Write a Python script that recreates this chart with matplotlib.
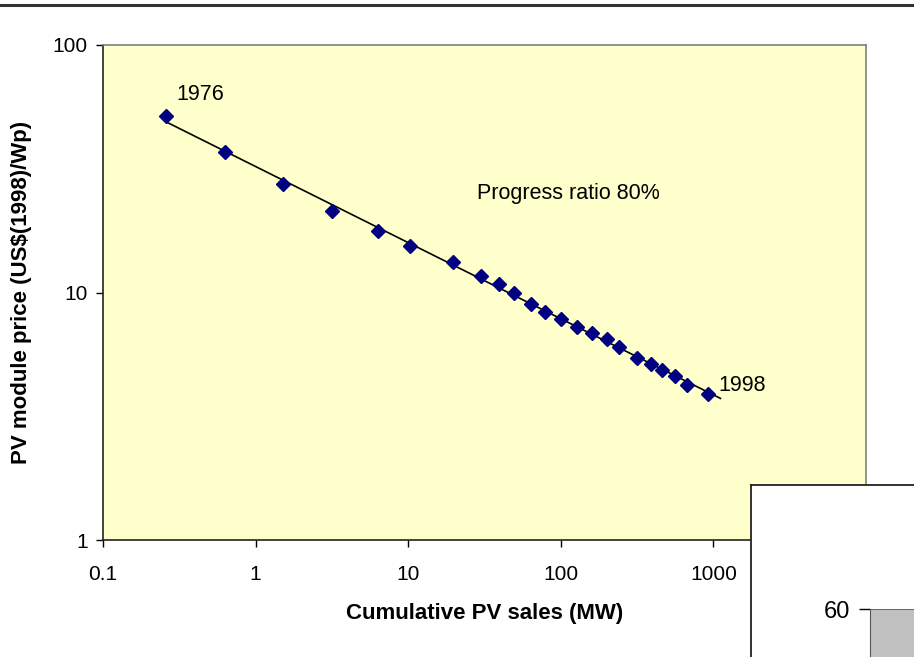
import numpy as np
import matplotlib
matplotlib.use("Agg")
import matplotlib.pyplot as plt

plt.rcParams['font.family'] = ['Liberation Sans', 'DejaVu Sans']

# cumulative PV sales (MW) and module price (US$1998/Wp), 1976..1998
sales = [0.26, 0.63, 1.51, 3.18, 6.3, 10.3, 19.6, 30.1, 39.5, 49.5, 64.1,
         79, 100, 128, 161, 202, 241, 318, 388, 463, 563, 676, 927]
price = [51.5, 37.0, 27.4, 21.3, 17.8, 15.4, 13.3, 11.7, 10.8, 10.0, 9.0,
         8.35, 7.8, 7.26, 6.86, 6.5, 6.05, 5.45, 5.14, 4.85, 4.58, 4.23, 3.9]
first_year, last_year = "1976", "1998"
inset_ticks = [60]
inset_vals = [60]

fig = plt.figure(figsize=(9.14, 6.57), dpi=100)

# dark rule along the top of the page
fig.add_artist(plt.Line2D([0, 1], [1 - 5 / 657, 1 - 5 / 657], color='#333333', lw=2.2))

ax = fig.add_axes([103 / 914, 1 - 540 / 657, 763 / 914, 495 / 657])
ax.set_facecolor('#FFFFCC')
ax.set_xscale('log')
ax.set_yscale('log')
ax.set_xlim(0.1, 10000)
ax.set_ylim(1, 100)

# fitted experience curve
logx, logy = np.log10(sales), np.log10(price)
slope, icpt = np.polyfit(logx, logy, 1)
xf = np.array([sales[0], sales[-1] * 1.2])
ax.plot(xf, 10 ** (icpt + slope * np.log10(xf)), color='black', lw=1.2, zorder=2)

ax.plot(sales, price, linestyle='none', marker='D', markersize=7.5,
        color='#000080', zorder=3)

ax.annotate(first_year, (sales[0], price[0]), xytext=(7, 16), textcoords='offset points',
            fontsize=15.5, va='center', ha='left')
ax.annotate(last_year, (sales[-1], price[-1]), xytext=(7, 6), textcoords='offset points',
            fontsize=15.5, va='center', ha='left')
ax.text(0.49, 0.70, "Progress ratio 80%", transform=ax.transAxes, fontsize=15.5,
        va='center', ha='left')

ax.set_xticks([0.1, 1, 10, 100, 1000, 10000])
ax.set_xticklabels(['0.1', '1', '10', '100', '1000', '10000'])
ax.set_yticks([1, 10, 100])
ax.set_yticklabels(['1', '10', '100'])
ax.minorticks_off()
ax.tick_params(length=5, width=1, labelsize=15)
ax.tick_params(axis='x', pad=13)
ax.tick_params(axis='y', pad=6)

for s in ['left', 'bottom']:
    ax.spines[s].set_color('#222222')
    ax.spines[s].set_linewidth(1.2)
for s in ['top', 'right']:
    ax.spines[s].set_color('#808080')
    ax.spines[s].set_linewidth(1.2)

ax.set_xlabel("Cumulative PV sales (MW)", fontsize=16, fontweight='bold', labelpad=14)
ax.set_ylabel("PV module price (US$(1998)/Wp)", fontsize=16, fontweight='bold', labelpad=15)

# overlapping chart box in the bottom-right corner
box = fig.add_axes([751 / 914, -0.05, 0.3, 0.05 + 1 - 485 / 657], zorder=5)
box.set_facecolor('white')
box.set_xticks([])
box.set_yticks([])
for s in box.spines.values():
    s.set_color('#222222')
    s.set_linewidth(1.3)

inner = fig.add_axes([870 / 914, -0.05, 0.1, 0.05 + 1 - 609 / 657], zorder=6)
inner.set_facecolor('white')
inner.bar([0], inset_vals, width=1.0, color='#C0C0C0', edgecolor='#555555', lw=1.2)
inner.set_xlim(-0.5, 0.3)
inner.set_ylim(0, 60)
inner.set_yticks(inset_ticks)
inner.set_yticklabels([str(t) for t in inset_ticks])
inner.set_xticks([])
inner.tick_params(length=8, width=1, labelsize=17, pad=6)
for s in ['top', 'right', 'bottom']:
    inner.spines[s].set_visible(False)
inner.spines['left'].set_color('#555555')

fig.savefig("out.png", dpi=100)
